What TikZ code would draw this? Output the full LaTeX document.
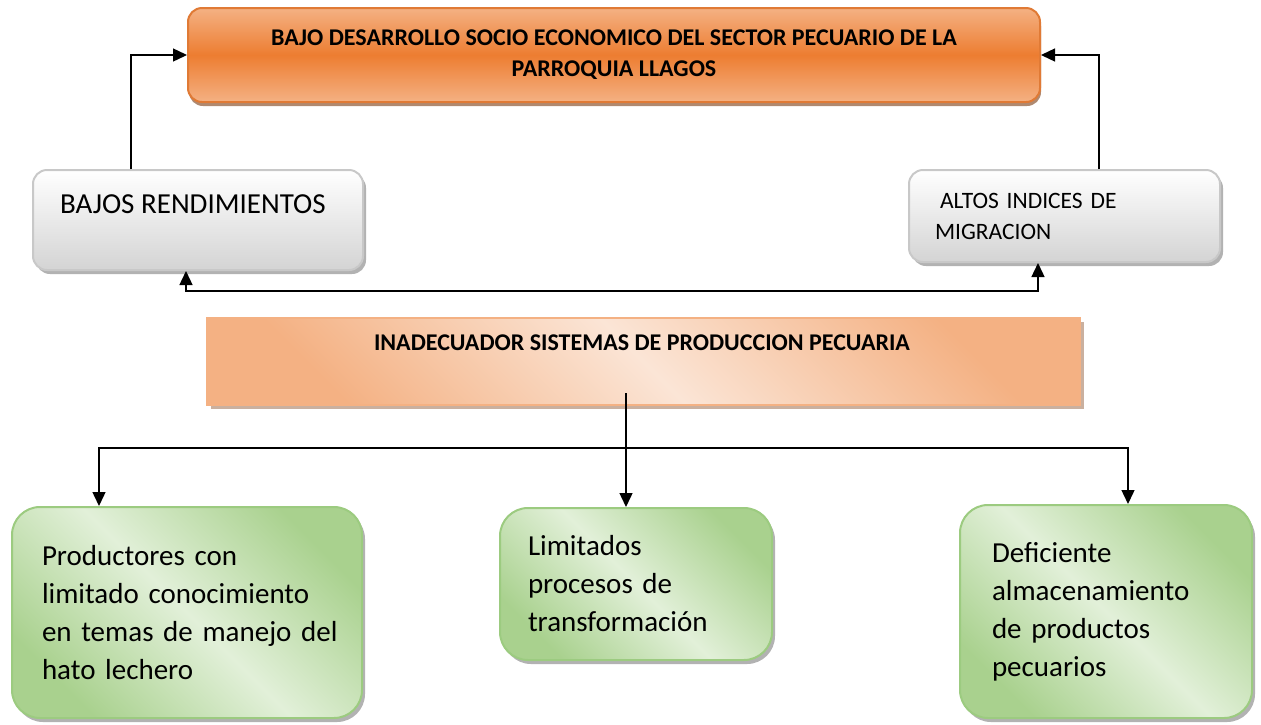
\documentclass[tikz,border=0pt]{standalone}
\usepackage{fontspec}
\setmainfont{Carlito}
\usetikzlibrary{arrows.meta,shadows,calc}
\definecolor{orng}{HTML}{ED7D31}
\definecolor{orngl}{HTML}{F4B183}
\definecolor{orngd}{HTML}{E07A35}
\definecolor{brn}{HTML}{7A3A10}
\definecolor{peach}{HTML}{F4B183}
\definecolor{peachl}{HTML}{FBE5D6}
\definecolor{grn}{HTML}{A9D18E}
\definecolor{grnl}{HTML}{E2F0D9}
\definecolor{grnb}{HTML}{9CCB80}
\definecolor{gryb}{HTML}{C8C8C8}
\begin{document}
\begin{tikzpicture}[x=1pt,y=-1pt,
  arr/.style={line width=1.4pt,-{Triangle[width=13pt,length=14pt]}},
  dblarr/.style={line width=1.4pt,{Triangle[width=13pt,length=14pt]}-{Triangle[width=13pt,length=14pt]}},
  topbox/.style={draw=orngd,line width=2pt,rounded corners=14pt,
    top color=orngl,bottom color=orngl,middle color=orng,
    drop shadow={shadow xshift=1pt,shadow yshift=-4pt,fill=brn,opacity=0.6},
    inner sep=0pt,align=center,font=\bfseries\fontsize{24}{31}\selectfont},
  graybox/.style={draw=gryb,line width=2pt,rounded corners=14pt,
    top color=white,bottom color=black!17,
    drop shadow={shadow xshift=3pt,shadow yshift=-4pt,fill=black,opacity=0.3},
    inner sep=0pt},
  midbox/.style={draw=peach,line width=2pt,
    left color=peach,right color=peach,middle color=peachl,shading angle=135,
    drop shadow={shadow xshift=4pt,shadow yshift=-4pt,fill=brn,opacity=0.4},
    inner sep=0pt},
  greenbox/.style={draw=grnb,line width=2pt,rounded corners=28pt,
    left color=grn,right color=grn,middle color=grnl,shading angle=135,
    drop shadow={shadow xshift=3pt,shadow yshift=-4pt,fill=black,opacity=0.3},
    inner ysep=0pt,align=left,font=\fontsize{29}{38}\selectfont},
  plain/.style={inner sep=0pt,align=left}
]
\useasboundingbox (0,0) rectangle (1261,724);

% top box
\node[topbox,minimum width=852pt,minimum height=94pt] (top) at (614,55)
  {BAJO DESARROLLO SOCIO ECONOMICO DEL SECTOR PECUARIO DE LA\\PARROQUIA LLAGOS};

% gray boxes
\node[graybox,minimum width=330pt,minimum height=100pt] (bajos) at (198,220) {};
\node[plain,anchor=west,font=\fontsize{29}{38}\selectfont] (bajost) at (60,204) {BAJOS RENDIMIENTOS};
\node[graybox,minimum height=92pt,text width=259pt,inner xsep=26pt,align=left,
  font=\fontsize{23.5}{31}\selectfont] (altos) at (1064.5,216)
  {\hspace*{5pt}ALTOS INDICES DE\\MIGRACION};

% middle box
\node[midbox,minimum width=873pt,minimum height=87pt] (mid) at (643.5,361.5) {};
\node[plain,font=\bfseries\fontsize{24}{31}\selectfont] (midt) at (642,343)
  {INADECUADOR SISTEMAS DE PRODUCCION PECUARIA};

% green boxes
\node[greenbox,minimum height=211pt,text width=290pt,inner xsep=30pt] (g1) at (187,612.5)
  {\mbox{Productores con}\\\mbox{limitado conocimiento}\\\mbox{en temas de manejo del}\\\mbox{hato lechero}\\[-10pt]};
\node[greenbox,minimum height=152pt,text width=216pt,inner xsep=28pt] (g2) at (636,584)
  {Limitados\\procesos de\\transformación};
\node[greenbox,minimum height=213pt,text width=228pt,inner xsep=32pt] (g3) at (1106,611.5)
  {Deficiente\\almacenamiento\\de productos\\pecuarios\\[-10pt]};

% connectors to top
\draw[arr] ([xshift=-67pt]bajos.north) |- (top.west);
\draw[arr] ([xshift=34.5pt]altos.north) |- (top.east);

% connector between gray boxes
\coordinate (jl) at (186,291);
\draw[dblarr] (bajos.south -| jl) -- (jl) -| ([xshift=-26.5pt]altos.south);

% from middle box to green boxes
\coordinate (m1) at (626,393);
\coordinate (j) at (626,448);
\draw[arr] (m1) -- (g2.north -| m1);
\draw[arr] (j) -| ([xshift=-88pt]g1.north);
\draw[arr] (j) -| ([xshift=22pt]g3.north);
\end{tikzpicture}
\end{document}
